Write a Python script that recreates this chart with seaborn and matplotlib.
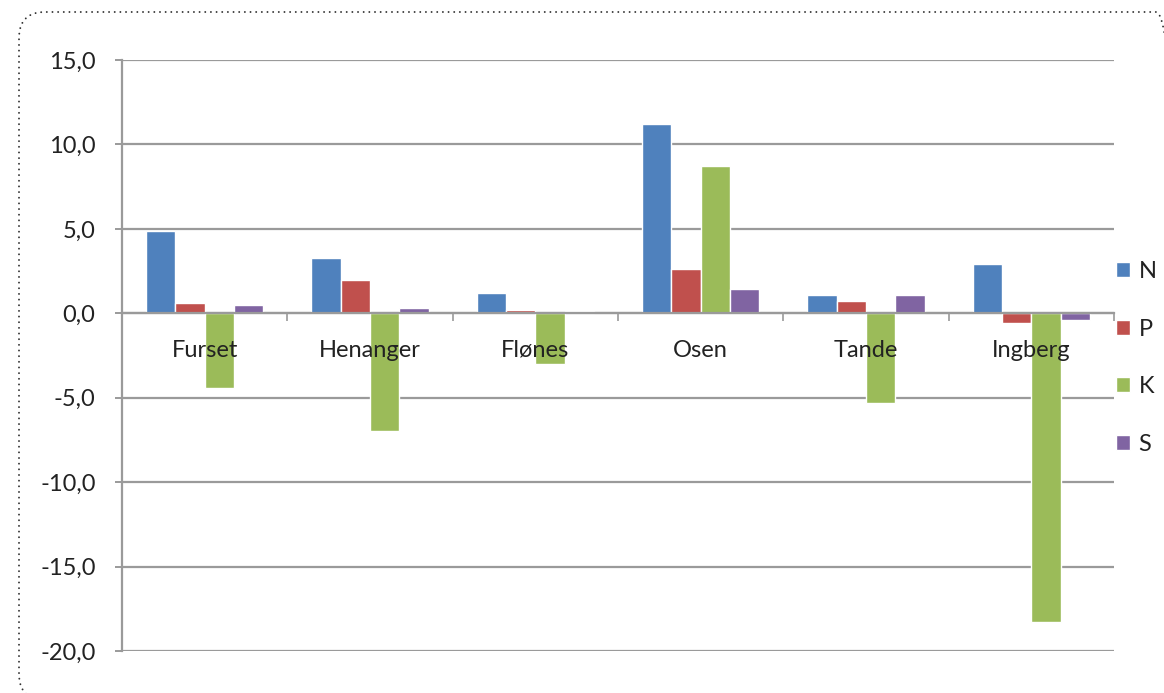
import numpy as np
import pandas as pd
import matplotlib
matplotlib.use("Agg")
import matplotlib.pyplot as plt
from matplotlib.patches import FancyBboxPatch
from matplotlib.ticker import FuncFormatter
import seaborn as sns

# Nutrient balance per site
sites = ["Furset", "Henanger", "Flønes", "Osen", "Tande", "Ingberg"]
elements = ["N", "P", "K", "S"]
n_vals = [4.9, 3.3, 1.2, 11.2, 1.1, 2.9]
p_vals = [0.6, 2.0, 0.2, 2.6, 0.7, -0.55]
k_vals = [-4.4, -7.0, -3.0, 8.7, -5.3, -18.3]
s_vals = [0.5, 0.3, 0.15, 1.45, 1.1, -0.4]
y_ticks = [-20, -15, -10, -5, 0, 5, 10, 15]

colors = ["#4F81BD", "#C0504D", "#9BBB59", "#8064A2"]

df = pd.DataFrame({
    "site": sites * 4,
    "element": [e for e in elements for _ in sites],
    "value": n_vals + p_vals + k_vals + s_vals,
})

sns.set_theme(style="white")
plt.rcParams["font.family"] = ["Lato", "DejaVu Sans"]
text_color = "#222222"
grid_color = "#9a9a9a"

W, H = 1164, 693
fig = plt.figure(figsize=(W / 100, H / 100), dpi=100)
fig.patch.set_facecolor("white")

# dotted rounded frame around the chart, in pixel (display) coordinates
frame_left, frame_top, frame_right, frame_bottom = 19, 12, 1182, 700
frame = FancyBboxPatch(
    (frame_left, H - frame_bottom), frame_right - frame_left, frame_bottom - frame_top,
    boxstyle="round,pad=0,rounding_size=26", transform=None,
    fill=False, edgecolor="#333333", linewidth=1.4,
    linestyle=(0, (0.01, 2.9)), capstyle="round", clip_on=False)
fig.patches.append(frame)

left, right, top, bottom = 122, 1114, 60, 651
ax = fig.add_axes([left / W, 1 - bottom / H, (right - left) / W, (bottom - top) / H])
ax.set_facecolor("none")

sns.barplot(data=df, x="site", y="value", hue="element", hue_order=elements,
            order=sites, palette=colors, width=0.71, saturation=1,
            errorbar=None, ax=ax)

ax.set_xlim(-0.5, len(sites) - 0.5)
ax.set_ylim(min(y_ticks), max(y_ticks))
ax.set_yticks(y_ticks)
ax.yaxis.set_major_formatter(FuncFormatter(lambda v, _: f"{v:.1f}".replace(".", ",")))
ax.set_xlabel("")
ax.set_ylabel("")

# gridlines behind bars, category labels above them
ax.set_axisbelow(True)
ax.yaxis.grid(True, color=grid_color, linewidth=1.6)
ax.xaxis.grid(False)
ax.xaxis.set_zorder(3)

for side in ["top", "right"]:
    ax.spines[side].set_visible(False)
ax.spines["left"].set_color(grid_color)
ax.spines["left"].set_linewidth(1.6)
ax.spines["bottom"].set_position(("data", 0))
ax.spines["bottom"].set_color(grid_color)
ax.spines["bottom"].set_linewidth(1.6)

ax.set_xticks(np.arange(-0.5, len(sites), 1), minor=True)
ax.tick_params(axis="x", which="major", length=0, pad=19, labelsize=17, labelcolor=text_color)
ax.tick_params(axis="x", which="minor", length=6, width=1.2, color=grid_color, direction="out", bottom=True)
ax.tick_params(axis="y", which="major", length=5, width=1.4, color=grid_color, direction="out",
               left=True, pad=14, labelsize=17, labelcolor=text_color)

sns.move_legend(ax, "center left", bbox_to_anchor=(1116 / W, 1 - 358 / H),
                bbox_transform=fig.transFigure, frameon=False, title=None,
                fontsize=17, handlelength=0.6, handleheight=0.6,
                handletextpad=0.35, labelspacing=1.55, borderpad=0, borderaxespad=0)
for t in ax.get_legend().get_texts():
    t.set_color(text_color)

fig.savefig("out.png", dpi=100, facecolor="white")
